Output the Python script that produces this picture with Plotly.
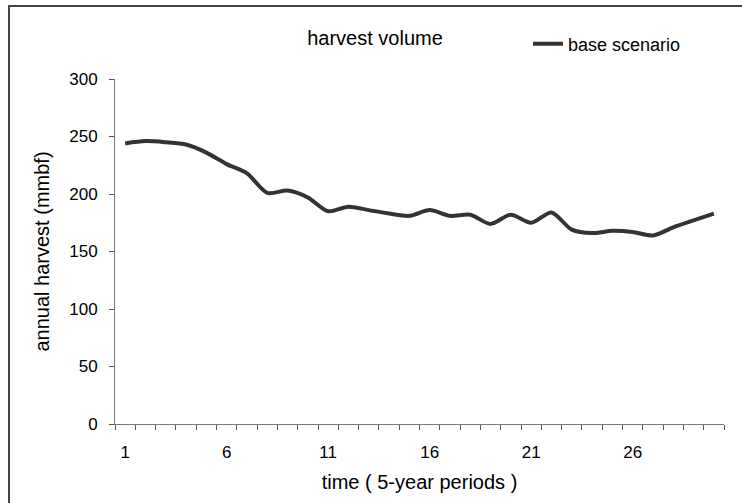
import plotly.graph_objects as go

# --- Data
periods = list(range(1, 31))
harvest = [244, 246, 245, 243, 236, 226, 218, 201, 203, 197,
           185, 189, 186, 183, 181, 186, 181, 182, 174, 182,
           175, 184, 169, 166, 168, 167, 164, 171, 177, 183]
x_ticklabels = [1, 6, 11, 16, 21, 26]
y_ticks = [0, 50, 100, 150, 200, 250, 300]

font = "Liberation Sans, Arial, sans-serif"
W, H = 742, 503
L, R, T, B = 115, 18, 79, 79

fig = go.Figure()
fig.add_trace(go.Scatter(x=periods, y=harvest, mode="lines", name="base scenario",
                         line=dict(color="#333333", width=4, shape="spline", smoothing=0.8)))
# invisible helper trace so the label axis gets drawn
fig.add_trace(go.Scatter(x=[periods[0]], y=[harvest[0]], xaxis="x2", mode="markers",
                         marker=dict(opacity=0), showlegend=False, hoverinfo="skip"))

boundaries = [p - 0.5 for p in periods] + [periods[-1] + 0.5]
xr = [boundaries[0], boundaries[-1]]

fig.update_layout(
    width=W, height=H,
    margin=dict(l=L, r=R, t=T, b=B),
    paper_bgcolor="white", plot_bgcolor="white",
    font=dict(family=font, color="black"),
    title=dict(text="harvest volume", x=375 / W, xanchor="center",
               y=1 - 38 / H, yanchor="middle", font=dict(size=20)),
    showlegend=True,
    legend=dict(x=(528 - L) / (W - L - R), xanchor="left",
                y=(H - B - 44) / (H - T - B), yanchor="middle",
                font=dict(size=18), bgcolor="rgba(0,0,0,0)",
                itemwidth=30, tracegroupgap=0),
    xaxis=dict(range=xr, tickvals=boundaries, showticklabels=False,
               ticks="outside", ticklen=5, tickcolor="#555555",
               showline=True, linecolor="#777777", linewidth=1,
               showgrid=False, zeroline=False,
               title=dict(text="time ( 5-year periods )", font=dict(size=20), standoff=45)),
    xaxis2=dict(overlaying="x", matches="x", side="bottom", tickvals=x_ticklabels,
                ticks="", showline=False, showgrid=False, zeroline=False,
                tickfont=dict(size=17), ticklabelstandoff=16),
    yaxis=dict(range=[0, 300], tickvals=y_ticks, ticks="outside", ticklen=5,
               tickcolor="#555555", showline=True, linecolor="#777777", linewidth=1,
               showgrid=False, zeroline=False, tickfont=dict(size=17),
               ticklabelstandoff=8,
               title=dict(text="annual harvest (mmbf)", font=dict(size=20), standoff=14)),
)

# chart-area border (extends past right/bottom edges as in the reference)
pw, ph = W - L - R, H - T - B
fig.add_shape(type="rect", xref="paper", yref="paper",
              x0=(9 - L) / pw, x1=(W + 20 - L) / pw,
              y0=(H - B - (H + 20)) / ph, y1=(H - B - 6) / ph,
              line=dict(color="#444444", width=2), fillcolor="rgba(0,0,0,0)", layer="below")

fig.write_html("out.html", config={"displayModeBar": False},
               post_script="document.body.style.margin='0';")
